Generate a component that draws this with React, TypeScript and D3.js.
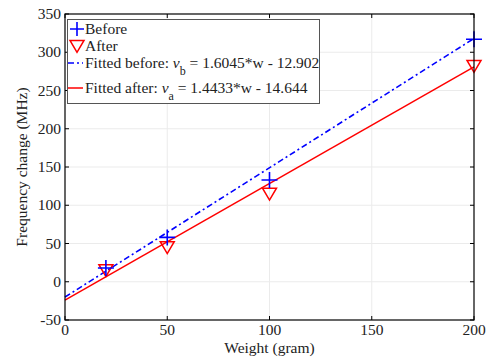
import { useRef, useEffect } from 'react';
import * as d3 from 'd3';

// measured points
const weights = [20, 50, 100, 200];
const before = [18, 58, 133, 317];
const after = [15, 45, 115, 282];

// fitted lines as drawn (endpoints)
const fitBeforeLine: [number, number][] = [[0, -20], [200, 318]];
const fitAfterLine: [number, number][] = [[0, -24], [200, 281]];

const xTicks = [0, 50, 100, 150, 200];
const yTicks = [-50, 0, 50, 100, 150, 200, 250, 300, 350];

const W = 487;
const H = 360;
const FONT = '"Liberation Serif", "Times New Roman", serif';
const FS = 15.5;

export default function App() {
  const svgRef = useRef<SVGSVGElement>(null);

  useEffect(() => {
    const svg = d3.select(svgRef.current);
    svg.selectAll('*').remove();

    const left = 65, right = 474, top = 14, bottom = 320;
    const x = d3.scaleLinear().domain([0, 200]).range([left, right]);
    const y = d3.scaleLinear().domain([-50, 350]).range([bottom, top]);

    svg.append('rect').attr('width', W).attr('height', H).attr('fill', '#fff');

    // grid
    const grid = svg.append('g').attr('stroke', '#ebebeb').attr('stroke-width', 1);
    xTicks.slice(1, -1).forEach(function (t) {
      grid.append('line').attr('x1', x(t)).attr('x2', x(t)).attr('y1', top).attr('y2', bottom);
    });
    yTicks.slice(1, -1).forEach(function (t) {
      grid.append('line').attr('x1', left).attr('x2', right).attr('y1', y(t)).attr('y2', y(t));
    });

    // fit lines
    const line = d3.line<[number, number]>()
      .x(function (d) { return x(d[0]); })
      .y(function (d) { return y(d[1]); });

    svg.append('path').attr('d', line(fitBeforeLine)).attr('fill', 'none')
      .attr('stroke', '#0000ff').attr('stroke-width', 1.6).attr('stroke-dasharray', '6,3,2,3');
    svg.append('path').attr('d', line(fitAfterLine)).attr('fill', 'none')
      .attr('stroke', '#ff0000').attr('stroke-width', 1.5);

    // markers
    const plus = function (g: any, cx: number, cy: number, s: number) {
      g.append('path')
        .attr('d', 'M' + (cx - s) + ',' + cy + 'H' + (cx + s) + 'M' + cx + ',' + (cy - s) + 'V' + (cy + s))
        .attr('stroke', '#0000ff').attr('stroke-width', 1.6).attr('fill', 'none');
    };
    const tri = function (g: any, cx: number, cy: number, s: number) {
      g.append('path')
        .attr('d', 'M' + (cx - s) + ',' + (cy - s * 0.8) + 'H' + (cx + s) + 'L' + cx + ',' + (cy + s * 0.9) + 'Z')
        .attr('stroke', '#ff0000').attr('stroke-width', 1.5).attr('fill', 'none');
    };

    weights.forEach(function (w, i) {
      tri(svg, x(w), y(after[i]), 7);
      plus(svg, x(w), y(before[i]), 8);
    });

    // frame
    svg.append('rect').attr('x', left).attr('y', top).attr('width', right - left).attr('height', bottom - top)
      .attr('fill', 'none').attr('stroke', '#000').attr('stroke-width', 1.2);

    // ticks
    const tk = svg.append('g').attr('stroke', '#000').attr('stroke-width', 1);
    xTicks.forEach(function (t) {
      tk.append('line').attr('x1', x(t)).attr('x2', x(t)).attr('y1', bottom).attr('y2', bottom - 4);
      tk.append('line').attr('x1', x(t)).attr('x2', x(t)).attr('y1', top).attr('y2', top + 4);
    });
    yTicks.forEach(function (t) {
      tk.append('line').attr('x1', left).attr('x2', left + 4).attr('y1', y(t)).attr('y2', y(t));
      tk.append('line').attr('x1', right).attr('x2', right - 4).attr('y1', y(t)).attr('y2', y(t));
    });

    const txt = svg.append('g').attr('font-family', FONT).attr('font-size', FS).attr('fill', '#222');
    xTicks.forEach(function (t) {
      txt.append('text').attr('x', x(t)).attr('y', bottom + 15).attr('text-anchor', 'middle').text(String(t));
    });
    yTicks.forEach(function (t) {
      txt.append('text').attr('x', left - 4).attr('y', y(t) + 5).attr('text-anchor', 'end').text(String(t));
    });

    txt.append('text').attr('x', (left + right) / 2).attr('y', bottom + 33).attr('text-anchor', 'middle')
      .text('Weight (gram)');
    txt.append('text').attr('transform', 'translate(27,' + (top + bottom) / 2 + ') rotate(-90)')
      .attr('text-anchor', 'middle').text('Frequency change (MHz)');

    // legend
    const lg = svg.append('g');
    lg.append('rect').attr('x', 67.5).attr('y', 19.5).attr('width', 252).attr('height', 84)
      .attr('fill', '#fff').attr('stroke', '#555').attr('stroke-width', 1);
    plus(lg, 77, 29, 7);
    tri(lg, 77, 46, 7);
    lg.append('line').attr('x1', 68).attr('x2', 83).attr('y1', 63).attr('y2', 63)
      .attr('stroke', '#0000ff').attr('stroke-width', 1.6).attr('stroke-dasharray', '6,3,2,3');
    lg.append('line').attr('x1', 68).attr('x2', 83).attr('y1', 88).attr('y2', 88)
      .attr('stroke', '#ff0000').attr('stroke-width', 1.5);

    const lt = lg.append('g').attr('font-family', FONT).attr('font-size', FS).attr('fill', '#222');
    lt.append('text').attr('x', 85).attr('y', 34).text('Before');
    lt.append('text').attr('x', 85).attr('y', 51).text('After');
    const t1 = lt.append('text').attr('x', 85).attr('y', 68);
    t1.append('tspan').text('Fitted before: ');
    t1.append('tspan').attr('font-style', 'italic').text('\u03bd');
    t1.append('tspan').attr('dy', 7).attr('font-size', 12).text('b');
    t1.append('tspan').attr('dy', -7).text(' = 1.6045*w - 12.902');
    const t2 = lt.append('text').attr('x', 85).attr('y', 93);
    t2.append('tspan').text('Fitted after: ');
    t2.append('tspan').attr('font-style', 'italic').text('\u03bd');
    t2.append('tspan').attr('dy', 7).attr('font-size', 12).text('a');
    t2.append('tspan').attr('dy', -7).text(' = 1.4433*w - 14.644');
  }, []);

  return (
    <svg ref={svgRef} width={W} height={H}
      style={{ position: 'absolute', left: 0, top: 0, display: 'block' }} />
  );
}
